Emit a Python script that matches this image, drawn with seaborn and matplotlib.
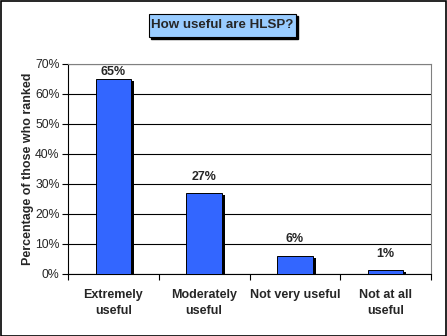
import matplotlib
matplotlib.use("Agg")
import matplotlib.pyplot as plt
import matplotlib.patheffects as pe
from matplotlib.patches import Rectangle
import seaborn as sns
import pandas as pd

categories = ["Extremely\nuseful", "Moderately\nuseful", "Not very useful", "Not at all\nuseful"]
values = [65, 27, 6, 1.3]
labels = ["65%", "27%", "6%", "1%"]
yticks = [0, 10, 20, 30, 40, 50, 60, 70]
title = "How useful are HLSP?"
ylabel = "Percentage of those who ranked"

sns.set_theme(style="white")
plt.rcParams['font.family'] = ['Liberation Sans', 'DejaVu Sans']

fig = plt.figure(figsize=(4.47, 3.36), dpi=100)
ax = fig.add_axes([68/447, 1-274/336, (431-68)/447, (274-64)/336])

df = pd.DataFrame({"cat": categories, "val": values})
sns.barplot(data=df, x="cat", y="val", color="#3366FF", saturation=1, width=0.39,
            edgecolor="black", linewidth=0.7, ax=ax, zorder=3)
for p in ax.patches:
    p.set_path_effects([pe.SimplePatchShadow(offset=(2.2, -1.5), shadow_rgbFace="black", alpha=1), pe.Normal()])

ax.set_ylim(0, 70)
ax.set_xlim(-0.5, 3.5)
ax.set_yticks(yticks)
ax.set_yticklabels([f"{t}%" for t in yticks], fontsize=8.8)
ax.yaxis.grid(True, color="black", linewidth=0.8, zorder=0)
ax.set_axisbelow(True)
ax.set_xticks([0, 1, 2, 3])
ax.set_xticklabels(categories, fontsize=9, fontweight="bold", linespacing=1.45)
ax.tick_params(axis="x", length=0, pad=11)
ax.tick_params(axis="y", length=4, width=0.8, color="black", left=True, pad=2)
ax.set_xticks([-0.5, 0.5, 1.5, 2.5, 3.5], minor=True)
ax.tick_params(axis="x", which="minor", length=4, width=0.8, color="black", bottom=True)

ax.set_xlabel("")
ax.set_ylabel(ylabel, fontsize=9, fontweight="bold", labelpad=1)

for s in ["left", "bottom"]:
    ax.spines[s].set_color("black")
    ax.spines[s].set_linewidth(0.8)
for s in ["top", "right"]:
    ax.spines[s].set_visible(True)
    ax.spines[s].set_color("#808080")
    ax.spines[s].set_linewidth(0.8)

for i, (v, lab) in enumerate(zip(values, labels)):
    y = min(v + 5.5, 67.3)
    ax.text(i, y, lab, ha="center", va="center", fontsize=9, fontweight="bold", zorder=4)

# title box
fig.patches.append(Rectangle((151/447, 1-38.5/336), 147/447, 23/336, transform=fig.transFigure,
                             facecolor="black", edgecolor="black", zorder=1))
fig.patches.append(Rectangle((148.5/447, 1-36.5/336), 147/447, 22.5/336, transform=fig.transFigure,
                             facecolor="#99CCFF", edgecolor="black", linewidth=0.8, zorder=2))
fig.text(222/447, 1-25.5/336, title, ha="center", va="center", fontsize=9.6, fontweight="bold", zorder=3)

# outer border
fig.patches.append(Rectangle((0.5/447, 0.5/336), 445.5/447, 334.5/336, transform=fig.transFigure,
                             facecolor="none", edgecolor="black", linewidth=1.2, zorder=5))

fig.savefig("out.png", dpi=100)
